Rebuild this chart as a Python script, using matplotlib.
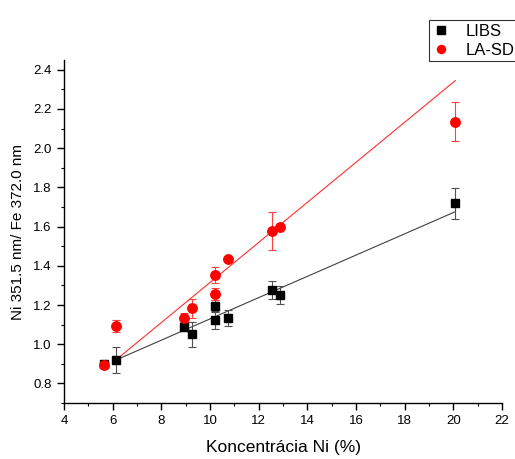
import matplotlib
matplotlib.use("Agg")
import matplotlib.pyplot as plt

plt.rcParams['font.family'] = ['Liberation Sans', 'DejaVu Sans']

# Data
x_libs = [5.66, 6.14, 8.92, 9.26, 10.21, 10.21, 10.75, 12.56, 12.88, 20.08]
y_libs = [0.90, 0.92, 1.09, 1.05, 1.195, 1.123, 1.135, 1.277, 1.253, 1.718]
e_libs = [0.02, 0.067, 0.025, 0.065, 0.03, 0.045, 0.04, 0.048, 0.046, 0.081]

x_lasd = [5.66, 6.14, 8.92, 9.26, 10.21, 10.21, 10.75, 12.56, 12.88, 20.08]
y_lasd = [0.892, 1.094, 1.132, 1.183, 1.255, 1.354, 1.436, 1.578, 1.596, 2.136]
e_lasd = [0.01, 0.03, 0.025, 0.05, 0.03, 0.04, 0.01, 0.096, 0.01, 0.098]

fit_x = [6.0, 20.08]
fit_libs = [0.912, 1.676]
fit_lasd = [0.906, 2.345]

x_ticks = [4, 6, 8, 10, 12, 14, 16, 18, 20, 22]
y_ticks = [0.8, 1.0, 1.2, 1.4, 1.6, 1.8, 2.0, 2.2, 2.4]

fig = plt.figure(figsize=(5.15, 4.59), dpi=100)
ax = fig.add_axes([64/515, 1-403/459, (502-64)/515, (403-60)/459])

ax.plot(fit_x, fit_libs, color='#404040', lw=0.8, zorder=2)
ax.plot(fit_x, fit_lasd, color='#ff3030', lw=0.8, zorder=2)

ax.errorbar(x_libs, y_libs, yerr=e_libs, fmt='none', ecolor='#505050',
            elinewidth=0.8, capsize=3, capthick=0.8, zorder=3)
ax.errorbar(x_lasd, y_lasd, yerr=e_lasd, fmt='none', ecolor='#ff4040',
            elinewidth=0.8, capsize=3, capthick=0.8, zorder=3)

ax.plot(x_libs, y_libs, 's', color='black', ms=6, label='LIBS', zorder=4)
ax.plot(x_lasd, y_lasd, 'o', color='red', ms=6.8, label='LA-SD', zorder=5)

ax.set_xlim(4, 22)
ax.set_ylim(0.7, 2.45)
ax.set_xticks(x_ticks)
ax.set_yticks(y_ticks)
ax.set_xticks([v for v in range(5, 22, 2)], minor=True)
ax.set_yticks([0.7 + 0.2 * i for i in range(9)], minor=True)
ax.set_yticklabels([f"{v:.1f}" for v in y_ticks])

for s in ['top', 'right']:
    ax.spines[s].set_visible(False)
for s in ['left', 'bottom']:
    ax.spines[s].set_linewidth(1.0)

ax.tick_params(axis='both', which='major', direction='out', length=5, width=1.0,
               labelsize=9.5, pad=4)
ax.tick_params(axis='both', which='minor', direction='out', length=2.5, width=0.8)

ax.set_xlabel('Koncentrácia Ni (%)', fontsize=12.5, labelpad=9)
ax.set_ylabel('Ni 351.5 nm/ Fe 372.0 nm', fontsize=11, labelpad=6)

leg = fig.legend(loc='upper left', bbox_to_anchor=(421/515, 1-12/459),
                 frameon=True, fancybox=False, edgecolor='black', fontsize=12,
                 handlelength=1.0, handletextpad=1.0, borderpad=0.2,
                 labelspacing=0.25, markerscale=0.85)
leg.get_frame().set_linewidth(0.8)

fig.savefig('out.png', dpi=100)
